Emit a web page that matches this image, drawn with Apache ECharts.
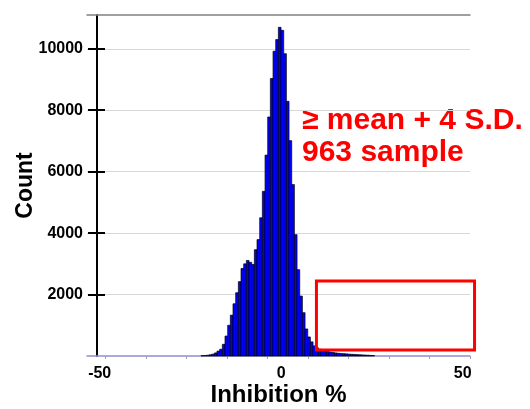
<!DOCTYPE html>
<html>
<head>
<meta charset="utf-8">
<script src="https://cdn.jsdelivr.net/npm/echarts@6/dist/echarts.min.js"></script>
<style>
  html, body { margin: 0; padding: 0; background: #fff; }
  #main { width: 530px; height: 409px; }
</style>
</head>
<body>
<div id="main"></div>
<script>
// histogram bins (Inhibition %)
var binStart = -22.1;
var binWidth = 0.735;
var counts = [
    10, 15, 25, 40, 60, 100, 160, 220, 380, 650,
    1000, 1330, 1700, 2060, 2420, 2850, 3000, 3110, 3050, 2980,
    3460, 3790, 4500, 5360, 6540, 7780, 9030, 9920, 10300, 10700,
    10600, 9840, 8290, 7010, 5580, 3950, 2810, 1950, 1410, 880,
    620, 460, 330, 270, 220, 190, 170, 150, 130, 115,
    100, 90, 80, 75, 70, 60, 55, 50, 45, 40,
    35, 30, 25, 20, 15
];
var xLabels = [-50, 0, 50];
var xTicks = [-48.35, -37.19, -26.03, -14.88, -3.72, 7.44, 18.59, 29.75, 40.91, 52];
var yLabels = [2000, 4000, 6000, 8000, 10000];
// hit box: >= mean + 4 S.D.
var hitX = [9.7, 53.25];
var hitY = [192, 2440];
var note = '≥ mean + 4 S.D.\n963 sample';

var font = 'Liberation Sans, Arial, sans-serif';
var chartDom = document.getElementById('main');
var chart = echarts.init(chartDom);

var bins = counts.map((c, i) => [binStart + i * binWidth, binStart + (i + 1) * binWidth, c]);

var option = {
    animation: false,
    grid: { left: 87, right: 60, top: 15, bottom: 53, outerBoundsMode: 'none', containLabel: false },
    xAxis: [
        {
            type: 'value', min: -53.5, max: 52,
            name: 'Inhibition %', nameLocation: 'middle', nameGap: 27, nameMoveOverlap: false,
            nameTextStyle: { fontFamily: font, fontWeight: 'bold', fontSize: 24, color: '#000' },
            axisLine: { onZero: false, lineStyle: { color: '#9090d0', width: 1.5 } },
            axisTick: { customValues: xTicks, length: 3, lineStyle: { color: '#a0a0b8', width: 1 } },
            axisLabel: { customValues: xLabels, margin: 10, fontFamily: font, fontWeight: 'bold', fontSize: 16, color: '#000' },
            splitLine: { show: false }
        },
        {
            type: 'value', position: 'top', min: -53.5, max: 52,
            axisLine: { show: true, onZero: false, lineStyle: { color: '#808080', width: 1.5 } },
            axisTick: { show: false }, axisLabel: { show: false }, splitLine: { show: false }
        }
    ],
    yAxis: [
        {
            type: 'value', min: 0, max: 11100, offset: -10,
            name: 'Count', nameLocation: 'middle', nameGap: 60, nameMoveOverlap: false,
            nameTextStyle: { fontFamily: font, fontWeight: 'bold', fontSize: 23, color: '#000' },
            axisLine: { show: true, onZero: false, lineStyle: { color: '#000', width: 2 } },
            axisTick: { customValues: yLabels, length: 9, lineStyle: { color: '#000', width: 2 } },
            axisLabel: {
                customValues: yLabels, margin: 14, formatter: v => String(v),
                fontFamily: font, fontWeight: 'bold', fontSize: 16, color: '#000'
            },
            splitLine: { show: true, lineStyle: { color: '#d8d8d8', width: 1 } }
        },
        {
            type: 'value', min: 0, max: 11100, offset: -10, position: 'left',
            axisLine: { show: false, onZero: false },
            axisTick: { inside: true, customValues: yLabels, length: 8, lineStyle: { color: '#000', width: 2 } },
            axisLabel: { show: false }, splitLine: { show: false }
        }
    ],
    series: [
        {
            type: 'custom',
            data: bins,
            encode: { x: [0, 1], y: 2 },
            renderItem: (params, api) => {
                var p0 = api.coord([api.value(0), api.value(2)]);
                var p1 = api.coord([api.value(1), 0]);
                return {
                    type: 'rect',
                    shape: { x: p0[0], y: p0[1], width: p1[0] - p0[0], height: p1[1] - p0[1] },
                    style: { fill: '#0000ff', stroke: '#000', lineWidth: 0.7 }
                };
            }
        },
        {
            type: 'custom',
            clip: false,
            data: [[hitX[0], hitX[1], hitY[0], hitY[1]]],
            renderItem: (params, api) => {
                var a = api.coord([api.value(0), api.value(3)]);
                var b = api.coord([api.value(1), api.value(2)]);
                return {
                    type: 'rect',
                    shape: { x: a[0], y: a[1], width: b[0] - a[0], height: b[1] - a[1] },
                    style: { fill: 'none', stroke: '#ff0000', lineWidth: 3 }
                };
            }
        }
    ],
    graphic: [
        {
            type: 'text', left: 302, top: 105,
            style: { text: note, fill: '#ff0000', font: 'bold 30px ' + font, lineHeight: 32 }
        }
    ]
};
chart.setOption(option);
</script>
</body>
</html>
